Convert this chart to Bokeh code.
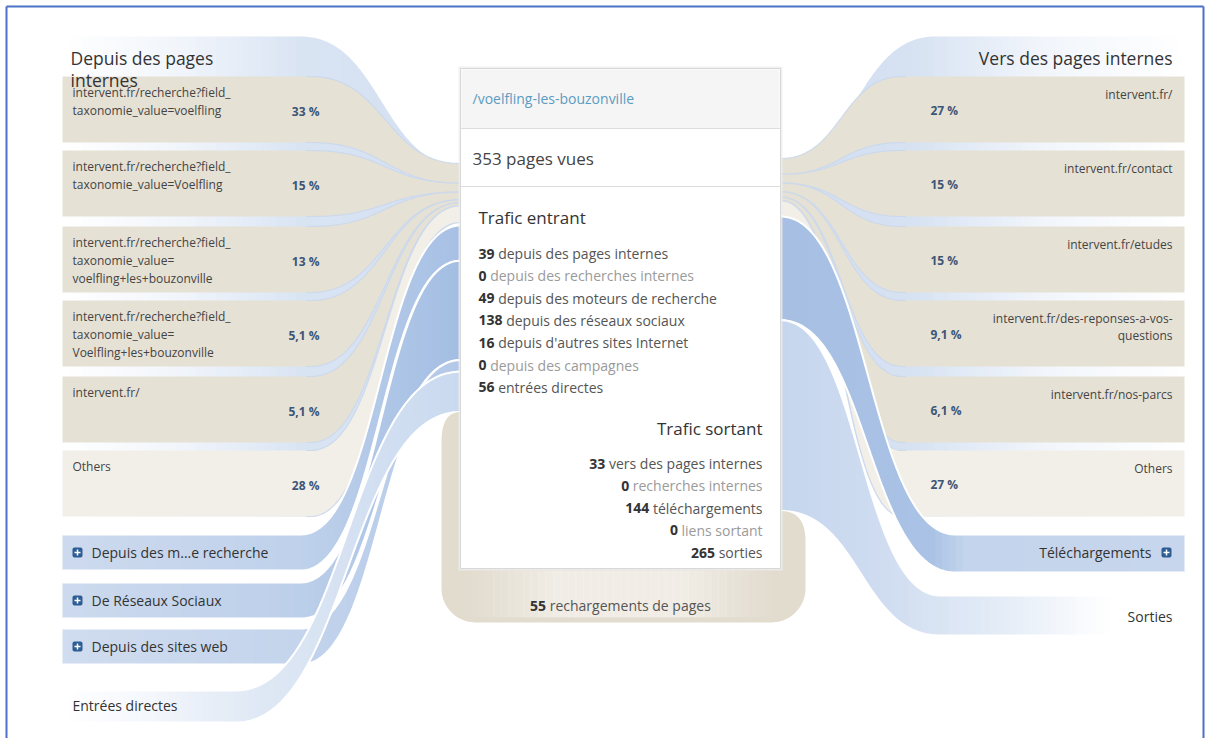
import numpy as np
from bokeh.plotting import figure
from bokeh.models import Range1d
from bokeh.core.properties import value
from bokeh.embed import file_html
from bokeh.resources import INLINE

# ------------------------------------------------------------------ data
page_url = "/voelfling-les-bouzonville"
pageviews = 353
pageviews_label = "pages vues"

incoming_title = "Trafic entrant"
incoming_labels = ["depuis des pages internes", "depuis des recherches internes",
                   "depuis des moteurs de recherche", "depuis des réseaux sociaux",
                   "depuis d'autres sites Internet", "depuis des campagnes",
                   "entrées directes"]
incoming_counts = [39, 0, 49, 138, 16, 0, 56]

outgoing_title = "Trafic sortant"
outgoing_labels = ["vers des pages internes", "recherches internes",
                   "téléchargements", "liens sortant", "sorties"]
outgoing_counts = [33, 0, 144, 0, 265]

reloads = 55
reloads_label = "rechargements de pages"

left_title = ["Depuis des pages", "internes"]
previous_pages = [["intervent.fr/recherche?field_", "taxonomie_value=voelfling"],
                  ["intervent.fr/recherche?field_", "taxonomie_value=Voelfling"],
                  ["intervent.fr/recherche?field_", "taxonomie_value=", "voelfling+les+bouzonville"],
                  ["intervent.fr/recherche?field_", "taxonomie_value=", "Voelfling+les+bouzonville"],
                  ["intervent.fr/"],
                  ["Others"]]
previous_pct = [33, 15, 13, 5.1, 5.1, 28]

right_title = "Vers des pages internes"
following_pages = [["intervent.fr/"], ["intervent.fr/contact"], ["intervent.fr/etudes"],
                   ["intervent.fr/des-reponses-a-vos-", "questions"],
                   ["intervent.fr/nos-parcs"], ["Others"]]
following_pct = [27, 15, 15, 9.1, 6.1, 27]

left_groups = ["Depuis des m...e recherche", "De Réseaux Sociaux", "Depuis des sites web", "Entrées directes"]
left_group_counts = [49, 138, 16, 56]
left_group_icon = [True, True, True, False]

right_groups = ["Téléchargements", "Sorties"]
right_group_counts = [144, 265]
right_group_icon = [True, False]

# ------------------------------------------------------------------ layout / style
FONT = value("Open Sans")
K = 0.72                      # px per visit for flows at the centre box
BOX_L, BOX_R, BOX_T, BOX_B = 460, 780, 68, 568
ROW_TOPS = [76, 150, 226, 300, 376, 450]
ROW_H = 66
L_X0, L_FLOW = 62, 310
R_FLOW, R_X1 = 902, 1184
IN_FAN = (163, 222)
OUT_FAN = (158, 216)
BEIGE = "#e6e1d5"
BEIGE_LIGHT = "#f2efe8"
W, H = 1209, 738

p = figure(width=W, height=H, x_range=Range1d(0, W), y_range=Range1d(H, 0),
           output_backend="svg", toolbar_location=None, min_border=0,
           x_axis_type=None, y_axis_type=None)
p.outline_line_color = None
p.background_fill_color = "white"
p.border_fill_color = "white"


def hex2rgb(h):
    h = h.lstrip("#")
    return [int(h[i:i + 2], 16) for i in (0, 2, 4)]


def mix(x, stops):
    xs = [s[0] for s in stops]
    cs = [hex2rgb(s[1]) for s in stops]
    r = [np.interp(x, xs, [c[k] for c in cs]) for k in range(3)]
    return "#%02x%02x%02x" % tuple(int(round(v)) for v in r)


def bez_edge(grid, xs, ys, xe, ye):
    t = np.linspace(0, 1, 500)
    xm = (xs + xe) / 2.0
    bx = (1 - t) ** 3 * xs + 3 * (1 - t) ** 2 * t * xm + 3 * (1 - t) * t ** 2 * xm + t ** 3 * xe
    by = ys + (ye - ys) * (3 * t ** 2 - 2 * t ** 3)
    o = np.argsort(bx)
    return np.interp(grid, bx[o], by[o])


def band(xa, xb, top_pts, bot_pts, n=300):
    grid = np.linspace(xa, xb, n)
    return grid, bez_edge(grid, *top_pts), bez_edge(grid, *bot_pts)


def grad_band(grid, top, bot, stops, nsl=60, alpha=1.0):
    edges = np.linspace(grid[0], grid[-1], nsl + 1)
    XS, YS, C = [], [], []
    for i in range(nsl):
        a = edges[i]
        b = min(edges[i + 1] + 0.8, grid[-1])
        g = np.linspace(a, b, 10)
        tt = np.interp(g, grid, top)
        bb = np.interp(g, grid, bot)
        XS.append(np.concatenate([g, g[::-1]]))
        YS.append(np.concatenate([tt, bb[::-1]]))
        C.append(mix((a + b) / 2, stops))
    p.patches(XS, YS, fill_color=C, line_color=None, fill_alpha=alpha)


def solid_band(grid, top, bot, color, alpha=1.0):
    p.patch(np.concatenate([grid, grid[::-1]]), np.concatenate([top, bot[::-1]]),
            fill_color=color, line_color=None, fill_alpha=alpha)


ADV = {' ': 532, "'": 393, ',': 502, '-': 659, '.': 545, '/': 752, ':': 545, '?': 879, '_': 918,
       '%': 1702, '+': 1171, '=': 1171,
       'A': 1296, 'D': 1479, 'E': 1139, 'I': 551, 'O': 1599, 'R': 1300, 'S': 1128, 'T': 1139, 'V': 1245,
       'a': 1139, 'b': 1255, 'c': 975, 'd': 1255, 'e': 1149, 'f': 694, 'g': 1122, 'h': 1257, 'i': 518,
       'j': 518, 'k': 1075, 'l': 518, 'm': 1905, 'n': 1257, 'o': 1237, 'p': 1255, 'q': 1255, 'r': 836,
       's': 977, 't': 723, 'u': 1257, 'v': 1026, 'w': 1593, 'x': 1073, 'y': 1028, 'z': 977,
       'é': 1149, 'è': 1149}
for d in "0123456789":
    ADV[d] = 1171


def tw(s, size):
    return sum(ADV.get(ch, 1150) for ch in s) / 2048.0 * size


def T(x, y, s, size, color="#333333", align="left", bold=False):
    p.text(x=[x], y=[y], text=[s], text_font=FONT, text_font_size=f"{size}px",
           text_color=color, text_align=align, text_baseline="middle",
           text_font_style="bold" if bold else "normal")


def fmt_pct(v):
    if float(v).is_integer():
        return f"{int(v)} %"
    return f"{v}".replace(".", ",") + " %"


def fan(pcts, rng):
    tot = float(sum(pcts))
    cum = np.concatenate([[0], np.cumsum(pcts)]) / tot
    return [rng[0] + c * (rng[1] - rng[0]) for c in cum]


# ------------------------------------------------------------------ group background bands
g, t_, b_ = band(L_X0, BOX_L + 2, (300, 36, BOX_L + 2, 166), (L_FLOW, 516, BOX_L + 2, IN_FAN[1]))
grad_band(g, t_, b_, [(L_X0, "#ffffff"), (180, "#f1f5fb"), (300, "#d9e4f3"), (BOX_L, "#d3dff1")])

g, t_, b_ = band(BOX_R - 2, R_X1, (BOX_R - 2, 160, 935, 36), (BOX_R - 2, OUT_FAN[1], R_FLOW, 516))
grad_band(g, t_, b_, [(BOX_R, "#d3dff1"), (910, "#d6e2f2"), (1040, "#f1f5fb"), (R_X1, "#ffffff")])

# ------------------------------------------------------------------ left rows (previous pages)
lf = fan(previous_pct, IN_FAN)
for i, (top, pct) in enumerate(zip(ROW_TOPS, previous_pct)):
    bot = top + ROW_H
    g, t_, b_ = band(L_X0, BOX_L, (L_FLOW, top, BOX_L, lf[i]), (L_FLOW, bot, BOX_L, lf[i + 1]))
    col = BEIGE_LIGHT if i == len(previous_pct) - 1 else BEIGE
    solid_band(g, t_, b_, col)
    m = g >= L_FLOW - 5
    p.multi_line([g[m], g[m]], [t_[m], b_[m]], line_color="#cad8ec", line_width=1.2, line_alpha=0.9)

# ------------------------------------------------------------------ right rows (following pages)
rf = fan(following_pct, OUT_FAN)
for i, (top, pct) in enumerate(zip(ROW_TOPS, following_pct)):
    bot = top + ROW_H
    g, t_, b_ = band(BOX_R, R_X1, (BOX_R, rf[i], R_FLOW, top), (BOX_R, rf[i + 1], R_FLOW, bot))
    col = BEIGE_LIGHT if i == len(following_pct) - 1 else BEIGE
    solid_band(g, t_, b_, col)
    m = g <= R_FLOW + 5
    p.multi_line([g[m], g[m]], [t_[m], b_[m]], line_color="#cad8ec", line_width=1.2, line_alpha=0.9)

# ------------------------------------------------------------------ left blue groups
lg_tops = [534, 582, 628, 690]
lg_h = [36, 36, 36, 32]
lg_x0 = [300, 300, 300, 235]
lg_stops = [[(L_X0, "#cddaee"), (300, "#bfd1eb"), (BOX_L, "#a7c0e4")],
            [(L_X0, "#cddaee"), (300, "#bccfea"), (BOX_L, "#a4bee3")],
            [(L_X0, "#d0dcef"), (300, "#c3d4ec"), (BOX_L, "#b3c8e8")],
            [(L_X0, "#ffffff"), (150, "#f4f7fc"), (250, "#e0e9f5"), (BOX_L, "#c9d9ef")]]
cy = 225.0
for i, cnt in enumerate(left_group_counts):
    c0, c1 = cy, cy + cnt * K
    cy = c1
    top, bot = lg_tops[i], lg_tops[i] + lg_h[i]
    g, t_, b_ = band(L_X0, BOX_L, (lg_x0[i], top, BOX_L, c0), (lg_x0[i], bot, BOX_L, c1))
    grad_band(g, t_, b_, lg_stops[i])
    p.multi_line([g, g], [t_, b_], line_color="white", line_width=2)
left_center_bottom = cy

# ------------------------------------------------------------------ right blue groups
rg_tops = [534, 595]
rg_h = [38, 40]
rg_x1 = [955, 940]
rg_stops = [[(BOX_R, "#a6bfe3"), (930, "#a9c2e5"), (965, "#c3d4ec"), (R_X1, "#c7d6ec")],
            [(BOX_R, "#c5d6ee"), (880, "#cfdcf0"), (1000, "#e4ecf7"), (1110, "#ffffff"), (R_X1, "#ffffff")]]
cy = OUT_FAN[1]
for i, cnt in enumerate(right_group_counts):
    c0, c1 = cy, cy + cnt * K
    cy = c1
    top, bot = rg_tops[i], rg_tops[i] + rg_h[i]
    g, t_, b_ = band(BOX_R, R_X1, (BOX_R, c0, rg_x1[i], top), (BOX_R, c1, rg_x1[i], bot))
    grad_band(g, t_, b_, rg_stops[i])
    p.multi_line([g, g], [t_, b_], line_color="white", line_width=2)
right_center_bottom = cy

# ------------------------------------------------------------------ reload loop
lb, rb = left_center_bottom, right_center_bottom
loop_bottom = BOX_B + reloads * 0.98
r = 34.0
xl, xr = 441.0, 805.0
t = np.linspace(0, 1, 24)
pts_x, pts_y = [], []
pts_x += list((1 - t) ** 2 * BOX_L + 2 * (1 - t) * t * xl + t ** 2 * xl)
pts_y += list((1 - t) ** 2 * lb + 2 * (1 - t) * t * lb + t ** 2 * (lb + 30))
th = np.linspace(np.pi, np.pi / 2, 24)
pts_x += list(xl + r + r * np.cos(th))
pts_y += list(loop_bottom - r + r * np.sin(th))
th = np.linspace(np.pi / 2, 0, 24)
pts_x += list(xr - r + r * np.cos(th))
pts_y += list(loop_bottom - r + r * np.sin(th))
pts_x += list((1 - t) ** 2 * xr + 2 * (1 - t) * t * xr + t ** 2 * BOX_R)
pts_y += list((1 - t) ** 2 * (rb + 30) + 2 * (1 - t) * t * rb + t ** 2 * rb)
pts_x += [BOX_R, BOX_L]
pts_y += [BOX_B, BOX_B]
p.patch(pts_x, pts_y, fill_color="#e2dccf", line_color=None)
# lighter centre of the loop
edges = np.linspace(470, 770, 41)
XS, YS, A = [], [], []
for i in range(40):
    a, b = edges[i], edges[i + 1] + 0.8
    XS.append([a, b, b, a])
    YS.append([BOX_B + 2, BOX_B + 2, loop_bottom - 5, loop_bottom - 5])
    c = (a + b) / 2
    A.append(0.85 * min(1.0, (c - 470) / 90.0, (770 - c) / 90.0))
p.patches(XS, YS, fill_color="#f3f0ea", fill_alpha=A, line_color=None)

# ------------------------------------------------------------------ centre box
p.quad(left=[BOX_L - 2], right=[BOX_R + 2], top=[BOX_T - 2], bottom=[BOX_B + 2],
       fill_color="#eeeeee", line_color=None, fill_alpha=0.8)
p.quad(left=[BOX_L], right=[BOX_R], top=[BOX_T], bottom=[BOX_B],
       fill_color="white", line_color="#d8d8d8", line_width=1)
p.quad(left=[BOX_L + 1], right=[BOX_R - 1], top=[BOX_T + 1], bottom=[128],
       fill_color="#f5f5f5", line_color=None)
p.segment(x0=[BOX_L, BOX_L], x1=[BOX_R, BOX_R], y0=[128, 186], y1=[128, 186],
          line_color="#dddddd", line_width=1)

T(472, 98, page_url, 14, "#5b9cc2")
T(472, 158, f"{pageviews} {pageviews_label}", 17, "#444444")
T(478, 217, incoming_title, 17, "#333333")
y0, dy = 253, 22.3
for i, (lab, cnt) in enumerate(zip(incoming_labels, incoming_counts)):
    y = y0 + i * dy
    num = str(cnt)
    T(478, y, num, 14, "#333333", bold=True)
    T(478 + tw(num, 14) + tw(" ", 14), y, lab, 14, "#9a9a9a" if cnt == 0 else "#555555")

T(762, 428, outgoing_title, 17, "#333333", align="right")
y0 = 463
for i, (lab, cnt) in enumerate(zip(outgoing_labels, outgoing_counts)):
    y = y0 + i * dy
    T(762, y, lab, 14, "#9a9a9a" if cnt == 0 else "#555555", align="right")
    T(762 - tw(lab, 14) - tw(" ", 14), y, str(cnt), 14, "#333333", align="right", bold=True)

rl = str(reloads)
wtot = tw(rl, 14) + tw(" ", 14) + tw(reloads_label, 14)
xs0 = (BOX_L + BOX_R) / 2 - wtot / 2
T(xs0, 605, rl, 14, "#333333", bold=True)
T(xs0 + tw(rl, 14) + tw(" ", 14), 605, reloads_label, 14, "#555555")

# ------------------------------------------------------------------ side texts
T(70, 57, left_title[0], 17.5, "#333333")
T(70, 79, left_title[1], 17.5, "#333333")
for i, (lines, pct) in enumerate(zip(previous_pages, previous_pct)):
    top = ROW_TOPS[i]
    for j, ln in enumerate(lines):
        T(72, top + 16 + 18 * j, ln, 12, "#444444")
    T(319, top + 35, fmt_pct(pct), 12, "#3b5677", align="right", bold=True)

T(1172, 57, right_title, 17.5, "#333333", align="right")
for i, (lines, pct) in enumerate(zip(following_pages, following_pct)):
    top = ROW_TOPS[i]
    for j, ln in enumerate(lines):
        T(1172, top + 18 + 17 * j, ln, 12, "#444444", align="right")
    T(930, top + 34, fmt_pct(pct), 12, "#3b5677", bold=True)


def icon(cx, cy):
    p.quad(left=[cx - 5], right=[cx + 5], top=[cy - 5], bottom=[cy + 5],
           fill_color="#2d5d93", line_color=None, border_radius=2)
    p.segment(x0=[cx - 3, cx], x1=[cx + 3, cx], y0=[cy, cy - 3], y1=[cy, cy + 3],
              line_color="white", line_width=1.5)


for i, lab in enumerate(left_groups):
    cyy = lg_tops[i] + lg_h[i] / 2
    if left_group_icon[i]:
        icon(77, cyy)
        T(91, cyy, lab, 14, "#333333")
    else:
        T(72, cyy - 1, lab, 14, "#333333")

for i, lab in enumerate(right_groups):
    cyy = rg_tops[i] + rg_h[i] / 2 - 1
    if right_group_icon[i]:
        icon(1166, cyy)
        T(1151, cyy, lab, 14, "#333333", align="right")
    else:
        T(1172, cyy + 2, lab, 14, "#333333", align="right")

# ------------------------------------------------------------------ outer frame
p.line(x=[6, 6], y=[H, 6], line_color="#4a72c4", line_width=2)
p.line(x=[6, 1203], y=[6, 6], line_color="#4a72c4", line_width=2)
p.line(x=[1203, 1203], y=[6, H], line_color="#4a72c4", line_width=2)

open("out.html", "w").write(file_html(p, INLINE))
